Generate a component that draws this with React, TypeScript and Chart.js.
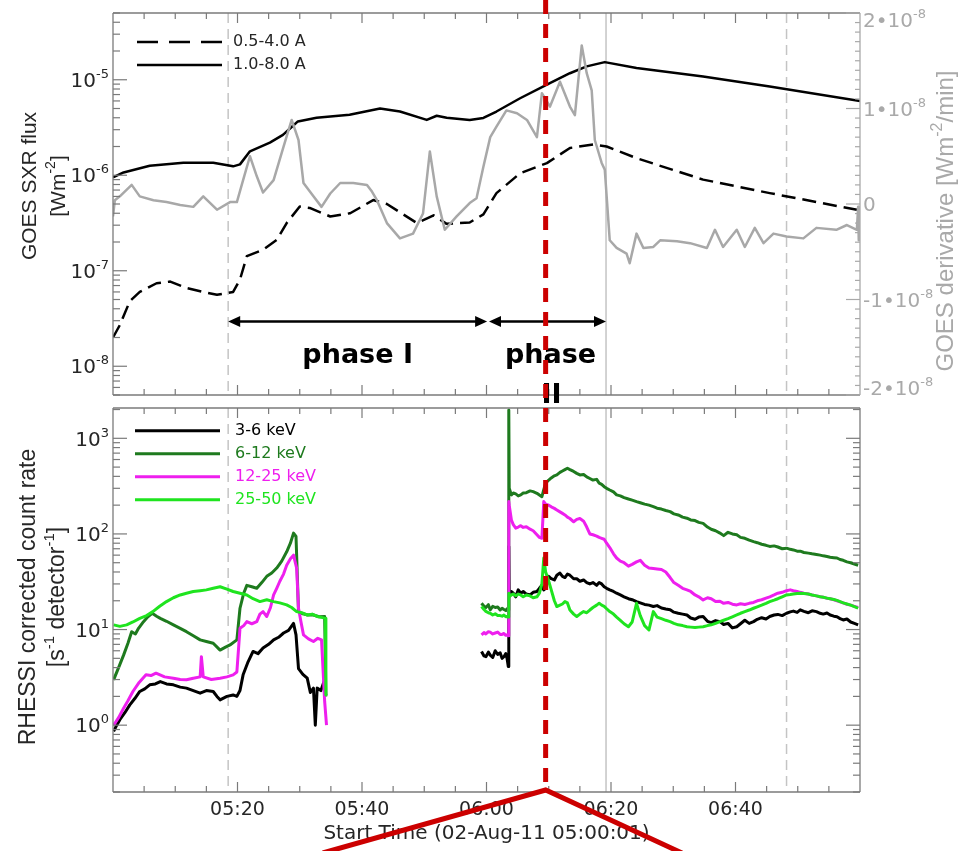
import React, { useEffect, useRef } from 'react';
import { Chart, registerables } from 'chart.js';

Chart.register(...registerables);

// ---------------- GOES (top panel) — time in minutes after 05:00 UT ----------------
const goesLongMin = [0, 1.7, 5.9, 11.3, 16.1, 19.3, 20.4, 22, 25.2, 27.3, 28.7, 29.7, 32.7, 38, 42.9, 46.1, 50.4, 52, 53.6, 57.3, 59.5, 61.6, 65.4, 69.7, 73.4, 76.1, 79, 84.1, 94.8, 105.5, 120];
const goesLongFlux = [0.95e-6, 1.07e-6, 1.26e-6, 1.35e-6, 1.35e-6, 1.24e-6, 1.3e-6, 1.78e-6, 2.2e-6, 2.65e-6, 3.2e-6, 3.66e-6, 4.0e-6, 4.3e-6, 5.0e-6, 4.65e-6, 3.8e-6, 4.2e-6, 4.0e-6, 3.78e-6, 3.98e-6, 4.65e-6, 6.4e-6, 8.9e-6, 1.17e-5, 1.38e-5, 1.53e-5, 1.33e-5, 1.08e-5, 8.5e-6, 6.0e-6];

const goesShortMin = [0, 1.1, 2.7, 4.3, 7.0, 9.2, 11.8, 14.5, 16.7, 19.3, 20.4, 21.5, 24.1, 26.3, 27.9, 30, 31.6, 34.9, 38.1, 41.8, 44, 48.8, 51.5, 53.6, 57.3, 59.5, 61.6, 65.4, 69.7, 73.4, 77.2, 79.3, 84.1, 94.8, 105.5, 119.5];
const goesShortFlux = [2.0e-8, 2.7e-8, 4.8e-8, 6.0e-8, 7.4e-8, 7.7e-8, 6.6e-8, 6.0e-8, 5.6e-8, 6.0e-8, 8.1e-8, 1.42e-7, 1.66e-7, 2.1e-7, 3.16e-7, 4.7e-7, 4.55e-7, 3.7e-7, 4.0e-7, 5.5e-7, 5.0e-7, 3.16e-7, 3.8e-7, 3.1e-7, 3.2e-7, 3.9e-7, 6.5e-7, 1.05e-6, 1.34e-6, 1.93e-6, 2.1e-6, 2.0e-6, 1.51e-6, 9.0e-7, 6.5e-7, 4.35e-7];

// GOES derivative, in units of 1e-8 W m^-2 / min
const derivMin = [0, 0.3, 1.1, 3, 4.3, 6.5, 8.6, 10.8, 12.9, 14.5, 16.7, 18.8, 19.9, 20.9, 22, 23.1, 24.1, 25.8, 27.4, 28.7, 29.8, 30.6, 32.2, 33.5, 34.9, 36.5, 38.6, 40.8, 41.6, 42.4, 44, 46.1, 48.2, 49.8, 50.9, 52, 53.3, 55.2, 57.3, 58.4, 59.5, 60.6, 61.6, 63.2, 64.9, 66.5, 68.1, 68.9, 70.2, 71.8, 73.4, 74.2, 75.3, 76.1, 76.9, 77.4, 78.5, 79.0, 79.8, 80.9, 82.5, 83.0, 84.1, 85.2, 86.8, 87.9, 90.6, 92.7, 95.4, 96.7, 98.0, 100.2, 101.5, 103.1, 104.5, 106.1, 108.2, 110.9, 113.0, 116.2, 117.9, 119.5, 119.7, 119.8];
const derivVal = [-0.13, 0.04, 0.08, 0.2, 0.08, 0.04, 0.02, -0.01, -0.03, 0.08, -0.06, 0.02, 0.02, 0.25, 0.50, 0.29, 0.12, 0.25, 0.60, 0.88, 0.67, 0.22, 0.08, -0.03, 0.11, 0.22, 0.22, 0.20, 0.13, 0.04, -0.20, -0.36, -0.31, -0.10, 0.55, 0.08, -0.27, -0.13, 0.01, 0.06, 0.39, 0.70, 0.81, 0.98, 0.95, 0.88, 0.70, 1.16, 1.02, 1.28, 1.02, 0.93, 1.66, 1.37, 1.19, 0.67, 0.43, 0.36, -0.38, -0.46, -0.52, -0.62, -0.31, -0.46, -0.45, -0.38, -0.39, -0.41, -0.46, -0.27, -0.45, -0.27, -0.45, -0.25, -0.41, -0.31, -0.34, -0.36, -0.25, -0.27, -0.22, -0.27, -0.03, -0.38];

// ---------------- RHESSI (bottom panel) — counts s^-1 detector^-1 ----------------
// segment A (before RHESSI data gap)
const b36MinA = [0.1, 0.6, 1.1, 1.9, 2.7, 3.5, 4.3, 5.1, 5.9, 6.8, 7.6, 8.6, 9.7, 10.8, 11.8, 12.9, 14.0, 15.0, 16.1, 16.7, 17.2, 18.3, 19.3, 19.9, 20.4, 20.9, 21.7, 22.5, 23.3, 24.1, 25.0, 25.8, 26.6, 27.4, 28.2, 29.0, 29.4, 29.8, 30.5, 31.2, 31.7, 32.2, 32.5, 32.8, 33.4, 33.9, 34.2];
const b36RateA = [0.86, 1.0, 1.14, 1.35, 1.63, 1.9, 2.25, 2.4, 2.64, 2.7, 2.86, 2.7, 2.64, 2.5, 2.44, 2.3, 2.16, 2.3, 2.25, 2.0, 1.84, 2.0, 2.07, 2.0, 2.3, 3.36, 4.6, 5.9, 5.6, 6.4, 7.0, 7.8, 8.3, 9.2, 9.8, 11.6, 8.8, 3.9, 3.4, 3.1, 2.2, 2.44, 1.0, 2.44, 2.3, 2.86, 2.0];
const b612MinA = [0.1, 0.9, 1.7, 2.4, 3.0, 3.6, 4.1, 4.9, 5.6, 6.3, 7.0, 7.6, 8.6, 9.7, 10.8, 11.8, 12.9, 14.0, 15.0, 16.1, 17.2, 18.0, 18.8, 19.9, 20.4, 21.0, 21.5, 22.3, 23.1, 23.9, 24.7, 25.5, 26.3, 27.1, 27.9, 28.5, 29.0, 29.4, 29.8, 30.5, 31.3, 32.2, 33.1, 34.0, 34.2];
const b612RateA = [2.98, 4.0, 5.4, 7.2, 9.5, 9.0, 10.3, 12.1, 13.6, 14.8, 13.8, 13.1, 12.2, 11.2, 10.3, 9.5, 8.6, 7.8, 7.5, 7.2, 6.1, 6.5, 6.9, 7.8, 16.7, 24, 29, 28, 27, 31, 36, 39, 44, 52, 65, 80, 102, 94, 15.4, 14.6, 14.2, 14.2, 13.6, 13.7, 2.07];
const b1225MinA = [0.1, 0.9, 1.7, 2.4, 3.2, 4.2, 5.3, 6.1, 6.9, 8.3, 9.7, 10.8, 11.8, 12.9, 14.0, 14.2, 14.5, 15.8, 17.2, 18.3, 19.3, 19.9, 20.4, 21.0, 21.5, 22.3, 23.1, 23.6, 24.1, 24.7, 25.3, 25.8, 26.3, 26.8, 27.4, 27.9, 28.5, 29.0, 29.5, 29.8, 30.2, 30.6, 31.4, 32.2, 32.9, 33.5, 34.0, 34.3];
const b1225RateA = [1.0, 1.2, 1.5, 1.8, 2.25, 2.8, 3.36, 3.3, 3.5, 3.2, 3.1, 3.0, 2.98, 3.1, 3.2, 5.2, 3.2, 3.0, 3.1, 3.2, 3.36, 3.6, 10.3, 11.0, 12.1, 11.5, 12.1, 14.5, 15.4, 13.7, 17.0, 23, 27, 32, 38, 47, 55, 60, 44, 16.7, 12.0, 8.8, 8.0, 7.5, 8.1, 7.8, 1.77, 1.0];
const b2550MinA = [0.1, 1.1, 2.2, 3.2, 4.3, 5.4, 6.4, 7.5, 8.6, 9.7, 10.8, 11.8, 12.9, 14.0, 15.0, 16.1, 17.2, 18.3, 19.3, 20.4, 21.5, 22.5, 23.6, 24.7, 25.8, 26.8, 27.9, 28.7, 29.5, 30.3, 31.2, 32.0, 32.8, 33.5, 34.1, 34.2];
const b2550RateA = [11.2, 10.8, 11.2, 12.0, 13.1, 14.0, 15.4, 17.5, 19.6, 21.5, 23, 24, 25, 25.5, 26, 27, 28, 26.5, 25, 24, 23, 21, 19.6, 20.5, 19.6, 19, 18.1, 17, 15.4, 15, 14.2, 14.5, 13.7, 13.4, 13.1, 2.07];

// segment B (after RHESSI data gap) — common time grid
const rhessiMinB = [
  59.2, 59.6, 59.9, 60.3, 60.6, 61.0, 61.4, 61.8, 62.2, 62.5,
  62.8, 63.1, 63.3, 63.5, 63.58, 63.65, 64.0, 64.3, 64.7, 65.1,
  65.5, 65.9, 66.4, 67.0, 67.5, 68.1, 68.5, 68.9, 69.2, 69.5,
  70.0, 70.4, 70.9, 71.3, 71.8, 72.2, 72.6, 73.0, 73.4, 74.0,
  74.5, 75.0, 75.6, 76.1, 76.6, 77.1, 77.7, 78.1, 78.5, 78.9,
  79.3, 79.8, 80.4, 80.9, 81.5, 82.1, 82.8, 83.4, 84.1, 84.7,
  85.4, 86.1, 86.8, 87.4, 88.1, 88.8, 89.5, 90.1, 90.8, 91.5,
  92.2, 92.8, 93.5, 94.1, 94.8, 95.5, 96.1, 96.8, 97.5, 98.1,
  98.8, 99.5, 100.2, 100.8, 101.5, 102.2, 102.9, 103.5, 104.2, 104.9,
  105.5, 106.2, 106.8, 107.5, 108.2, 108.8, 109.3, 109.9, 110.4, 111.0,
  111.7, 112.3, 113.0, 113.6, 114.1, 114.7, 115.2, 115.8, 116.3, 116.8,
  117.3, 117.9, 118.5, 119.1, 119.7,
];
const b36RateB = [
  5.9, 5.3, 5.2, 5.8, 5.4, 5.1, 6.0, 5.5, 5.7, 5.0,
  5.2, 5.6, 5.0, 4.1, 74, 23, 25, 24, 22, 26,
  24, 25, 23.5, 23, 24.5, 25, 27, 29, 26, 27,
  36, 34, 33, 37, 39, 36, 35, 38, 37, 34,
  34, 32, 33, 31, 30, 31, 29, 31, 30, 28,
  27, 26, 25, 24, 23, 22, 21, 20.5, 19.6, 19,
  18.3, 18, 17.4, 17.8, 16.8, 16.4, 16.1, 15.2, 14.8, 14.5,
  14.2, 13.2, 12.8, 13.5, 13.7, 12.2, 11.8, 12.4, 12.1, 11.3,
  11.6, 10.4, 10.7, 11.5, 12.5, 11.6, 12.1, 12.8, 13.3, 12.9,
  13.7, 14.2, 14.4, 14.0, 14.8, 15.3, 15.6, 15.1, 16.1, 15.5,
  15.0, 15.7, 15.4, 14.8, 14.5, 14.9, 14.2, 13.8, 13.6, 13.0,
  12.6, 12.9, 12.0, 11.6, 11.2,
];
const b612RateB = [
  18.8, 17.5, 17.0, 18.2, 16.1, 17.5, 17.0, 17.2, 16.0, 16.7,
  16.2, 15.8, 16.5, 16, 1980, 300, 256, 268, 262, 250,
  256, 268, 270, 282, 277, 266, 255, 245, 290, 340,
  366, 385, 405, 414, 440, 455, 470, 486, 470, 450,
  430, 414, 418, 395, 380, 366, 372, 340, 330, 312,
  300, 288, 275, 256, 250, 240, 232, 226, 218, 212,
  205, 200, 193, 186, 182, 176, 171, 162, 158, 150,
  146, 140, 138, 132, 129, 118, 112, 108, 102, 96,
  104, 100, 98, 92, 90, 86, 83, 81, 78, 76,
  74, 75, 73, 70, 71, 69, 68, 66, 66, 64,
  63, 62, 61, 60, 59, 58, 57, 56.5, 56, 54,
  53, 51, 50, 48.5, 47,
];
const b1225RateB = [
  8.8, 9.3, 9.0, 9.5, 9.4, 9.0, 9.2, 9.4, 8.9, 8.9,
  9.1, 8.7, 8.8, 8.6, 218, 200, 140, 125, 115, 118,
  122, 117, 119, 112, 108, 98, 92, 90, 218, 205,
  200, 192, 185, 178, 170, 164, 158, 150, 145, 134,
  142, 145, 136, 118, 100, 98, 95, 92, 90, 88,
  80, 72, 62, 56, 52, 50, 46, 48, 51, 53,
  47, 44, 43.5, 43, 42.5, 40, 35, 31, 29, 27,
  26, 25, 23, 22, 20.4, 21.5, 21, 19.6, 19.8, 18.8,
  19.2, 18.4, 18.1, 18.6, 18.3, 18.8, 19.2, 20, 20.5, 21.3,
  22, 23, 24, 24.5, 25.5, 26, 25.5, 25, 24.5, 24,
  23.5, 23, 22.5, 22, 21.8, 21.2, 21, 20.5, 20, 19.5,
  19, 18.4, 18, 17.5, 17,
];
const b2550RateB = [
  17.4, 16.2, 15.5, 15.0, 14.8, 14.2, 14.6, 14.0, 14.0, 13.8,
  14.2, 13.6, 13.7, 13.5, 24, 22, 23, 23.5, 22.5, 23.5,
  23, 22, 23, 22.5, 21.5, 22, 24, 30, 56, 40,
  32, 26, 20, 17.4, 18, 18.5, 19.6, 19, 16, 14.5,
  13.7, 14.5, 15.4, 15, 16, 17, 18, 18.8, 18, 17.5,
  16.5, 15.4, 14.5, 13.5, 12.5, 11.5, 10.7, 12, 18.8, 14,
  11, 9.9, 15.4, 13.5, 13, 12.5, 12.1, 11.6, 11.2, 11,
  10.7, 10.6, 10.5, 10.6, 10.7, 11, 11.2, 11.6, 12.1, 12.5,
  13, 13.6, 14.2, 14.8, 15.4, 16, 16.7, 17.3, 18, 18.8,
  19.6, 20.3, 21, 22, 23, 23.2, 23.5, 23.8, 24, 23.8,
  23.5, 23, 22.5, 22, 21.8, 21.3, 21, 20.6, 20.2, 19.6,
  19, 18.5, 18, 17.4, 16.7,
];

const RHESSI_GAP_MIN = 46; // RHESSI has no data between the two segments

// ---------------- axes, labels, markers ----------------
const X_LABEL_MIN = [20, 40, 60, 80, 100];
const X_LABELS = ['05:20', '05:40', '06:00', '06:20', '06:40'];
const X_TITLE = 'Start Time (02-Aug-11 05:00:01)';
const GOES_LEGEND = ['0.5-4.0 A', '1.0-8.0 A'];
const RHESSI_LEGEND = ['3-6 keV', '6-12 keV', '12-25 keV', '25-50 keV'];
const RHESSI_COLORS = ['#000000', '#1e7a1e', '#ee1fee', '#1fe41f'];
const DERIV_MAJOR = [2, 1, 0, -1, -2];

const FLARE_START_MIN = 18.5;
const FLARE_PEAK_MIN = 79.2;
const FLARE_END_MIN = 108.2;
const PHASE1 = [18.5, 60.1];
const PHASE2 = [60.4, 79.2];
const ARROW_FLUX = 2.94e-8;
const RED_MARK_MIN = 69.5;
const CHEVRON_LEFT_MIN = 33.7;
const CHEVRON_RIGHT_MIN = 91.4;

const FAM_H = '"DejaVu Sans", "Liberation Sans", sans-serif';
const FAM_R = '"Liberation Sans", Arial, sans-serif';
const AXIS = '#7a7a7a';
const TEXT = '#262626';
const LIGHT = '#a9a9a9';
const VGRAY = '#c4c4c4';
const RED = '#cc0000';

const pts = (t: number[], v: number[]) => t.map((x, i) => ({ x, y: v[i] as number | null }));
const gapped = (ta: number[], va: number[], tb: number[], vb: number[]) => [
  ...pts(ta, va),
  { x: RHESSI_GAP_MIN, y: null },
  ...pts(tb, vb),
];

type Part = [string, boolean];
function drawSup(ctx: CanvasRenderingContext2D, parts: Part[], x: number, y: number, size: number, align: string, family: string, weight = 'normal') {
  const sup = Math.round(size * 0.65);
  const fontOf = (s: boolean) => `${weight} ${s ? sup : size}px ${family}`;
  const widths = parts.map(([t, s]) => { ctx.font = fontOf(s); return ctx.measureText(t).width; });
  const total = widths.reduce((a, b) => a + b, 0);
  let cx = align === 'left' ? x : align === 'right' ? x - total : x - total / 2;
  ctx.textAlign = 'left';
  ctx.textBaseline = 'alphabetic';
  parts.forEach(([t, s], i) => {
    ctx.font = fontOf(s);
    ctx.fillText(t, cx, s ? y - size * 0.45 : y);
    cx += widths[i];
  });
}

function drawRot(ctx: CanvasRenderingContext2D, parts: Part[], cx: number, cy: number, size: number, color: string) {
  ctx.save();
  ctx.translate(cx, cy);
  ctx.rotate(-Math.PI / 2);
  ctx.fillStyle = color;
  drawSup(ctx, parts, 0, size * 0.36, size, 'center', FAM_R);
  ctx.restore();
}

function seg(ctx: CanvasRenderingContext2D, x1: number, y1: number, x2: number, y2: number) {
  ctx.beginPath();
  ctx.moveTo(x1, y1);
  ctx.lineTo(x2, y2);
  ctx.stroke();
}

function flareLines(ctx: CanvasRenderingContext2D, chart: any) {
  const a = chart.chartArea;
  const xs = chart.scales.x;
  ctx.save();
  ctx.strokeStyle = VGRAY;
  ctx.lineWidth = 1.5;
  [[FLARE_START_MIN, true], [FLARE_PEAK_MIN, false], [FLARE_END_MIN, true]].forEach(([m, dashed]) => {
    ctx.setLineDash(dashed ? [10, 6] : []);
    const px = xs.getPixelForValue(m as number);
    seg(ctx, px, a.top, px, a.bottom);
  });
  ctx.restore();
}

function frameAndXTicks(ctx: CanvasRenderingContext2D, chart: any, rightColor: string) {
  const a = chart.chartArea;
  const xs = chart.scales.x;
  ctx.save();
  ctx.setLineDash([]);
  ctx.lineWidth = 1.3;
  ctx.strokeStyle = AXIS;
  seg(ctx, a.left, a.top, a.right, a.top);
  seg(ctx, a.left, a.bottom, a.right, a.bottom);
  seg(ctx, a.left, a.top, a.left, a.bottom);
  ctx.strokeStyle = rightColor;
  seg(ctx, a.right, a.top, a.right, a.bottom);
  ctx.strokeStyle = AXIS;
  ctx.lineWidth = 1.2;
  for (let m = 5; m < 120; m += 5) {
    const px = xs.getPixelForValue(m);
    const len = m % 20 === 0 ? 10 : 6;
    seg(ctx, px, a.bottom, px, a.bottom - len);
    seg(ctx, px, a.top, px, a.top + len);
  }
  ctx.restore();
}

function logAxis(ctx: CanvasRenderingContext2D, chart: any, ys: any, mirror: boolean) {
  const a = chart.chartArea;
  const min = ys.min, max = ys.max;
  ctx.save();
  ctx.setLineDash([]);
  ctx.strokeStyle = AXIS;
  ctx.lineWidth = 1.2;
  const e0 = Math.floor(Math.log10(min)), e1 = Math.ceil(Math.log10(max));
  for (let e = e0; e <= e1; e++) {
    for (let m = 1; m < 10; m++) {
      const v = Number(`${m}e${e}`);
      if (v < min || v > max) continue;
      const py = ys.getPixelForValue(v);
      const len = m === 1 ? 14 : 7;
      seg(ctx, a.left, py, a.left + len, py);
      if (mirror) seg(ctx, a.right, py, a.right - len, py);
      if (m === 1) {
        ctx.fillStyle = TEXT;
        drawSup(ctx, [['10', false], [String(e), true]], a.left - 4, py + 7.2, 20, 'right', FAM_H);
      }
    }
  }
  ctx.restore();
}

function doubleArrow(ctx: CanvasRenderingContext2D, x1: number, x2: number, y: number) {
  const hl = 12, hw = 5.5;
  ctx.save();
  ctx.setLineDash([]);
  ctx.strokeStyle = '#000';
  ctx.fillStyle = '#000';
  ctx.lineWidth = 2.5;
  seg(ctx, x1 + hl - 2, y, x2 - hl + 2, y);
  ctx.beginPath();
  ctx.moveTo(x1, y); ctx.lineTo(x1 + hl, y - hw); ctx.lineTo(x1 + hl, y + hw); ctx.closePath(); ctx.fill();
  ctx.beginPath();
  ctx.moveTo(x2, y); ctx.lineTo(x2 - hl, y - hw); ctx.lineTo(x2 - hl, y + hw); ctx.closePath(); ctx.fill();
  ctx.restore();
}

const topDeco = {
  id: 'topDeco',
  beforeDatasetsDraw(chart: any) {
    flareLines(chart.ctx, chart);
  },
  afterDatasetsDraw(chart: any) {
    const ctx: CanvasRenderingContext2D = chart.ctx;
    const a = chart.chartArea;
    const xs = chart.scales.x, ys = chart.scales.y, y2 = chart.scales.y2;
    frameAndXTicks(ctx, chart, LIGHT);
    logAxis(ctx, chart, ys, false);

    // right derivative axis
    ctx.save();
    ctx.strokeStyle = LIGHT;
    ctx.lineWidth = 1.2;
    for (let k = -20; k <= 20; k++) {
      const py = y2.getPixelForValue(k / 10);
      const len = k % 10 === 0 ? 14 : 5;
      seg(ctx, a.right, py, a.right - len, py);
    }
    ctx.fillStyle = LIGHT;
    DERIV_MAJOR.forEach((v) => {
      const py = Math.min(Math.max(y2.getPixelForValue(v), a.top + 7), a.bottom - 7);
      const parts: Part[] = v === 0 ? [['0', false]] : [[`${v}\u202210`, false], ['-8', true]];
      drawSup(ctx, parts, a.right + 3, py + 7.2, 20, 'left', FAM_H);
    });
    ctx.restore();

    // axis titles
    drawRot(ctx, [['GOES SXR flux', false]], 28, 186, 21, TEXT);
    drawRot(ctx, [['[Wm', false], ['-2', true], [']', false]], 57, 186, 21, TEXT);
    drawRot(ctx, [['GOES derivative [Wm', false], ['-2', true], ['/min]', false]], 944, 221, 24, LIGHT);

    // legend
    ctx.save();
    ctx.strokeStyle = '#000';
    ctx.lineWidth = 2.5;
    ctx.setLineDash([21, 11]);
    seg(ctx, a.left + 24, a.top + 29, a.left + 109, a.top + 29);
    ctx.setLineDash([]);
    seg(ctx, a.left + 24, a.top + 52, a.left + 109, a.top + 52);
    ctx.fillStyle = TEXT;
    ctx.font = `16px ${FAM_H}`;
    ctx.textAlign = 'left';
    ctx.textBaseline = 'middle';
    ctx.fillText(GOES_LEGEND[0], a.left + 120, a.top + 29);
    ctx.fillText(GOES_LEGEND[1], a.left + 120, a.top + 52);
    ctx.restore();

    // phase arrows and labels
    const ay = ys.getPixelForValue(ARROW_FLUX);
    const p1a = xs.getPixelForValue(PHASE1[0]), p1b = xs.getPixelForValue(PHASE1[1]);
    const p2a = xs.getPixelForValue(PHASE2[0]), p2b = xs.getPixelForValue(PHASE2[1]);
    doubleArrow(ctx, p1a, p1b, ay);
    doubleArrow(ctx, p2a, p2b, ay);
    ctx.save();
    ctx.fillStyle = '#000';
    ctx.font = `bold 27px ${FAM_H}`;
    ctx.textAlign = 'center';
    ctx.textBaseline = 'alphabetic';
    ctx.fillText('phase I', (p1a + p1b) / 2, ay + 41);
    ctx.fillText('phase', (p2a + p2b) / 2 + 3, ay + 41);
    ctx.fillText('II', (p2a + p2b) / 2 + 4, ay + 81);
    ctx.restore();
  },
};

const bottomDeco = {
  id: 'bottomDeco',
  beforeDatasetsDraw(chart: any) {
    flareLines(chart.ctx, chart);
  },
  afterDatasetsDraw(chart: any) {
    const ctx: CanvasRenderingContext2D = chart.ctx;
    const a = chart.chartArea;
    frameAndXTicks(ctx, chart, AXIS);
    logAxis(ctx, chart, chart.scales.y, true);

    drawRot(ctx, [['RHESSI corrected count rate', false]], 27, 597, 23, TEXT);
    drawRot(ctx, [['[s', false], ['-1', true], [' detector', false], ['-1', true], [']', false]], 56, 597, 23, TEXT);

    // legend
    ctx.save();
    ctx.lineWidth = 3;
    ctx.setLineDash([]);
    ctx.font = `16px ${FAM_H}`;
    ctx.textAlign = 'left';
    ctx.textBaseline = 'middle';
    RHESSI_LEGEND.forEach((label, i) => {
      const y = a.top + 22.7 + 23 * i;
      ctx.strokeStyle = RHESSI_COLORS[i];
      seg(ctx, a.left + 22, y, a.left + 107, y);
      ctx.fillStyle = RHESSI_COLORS[i];
      ctx.fillText(label, a.left + 122, y);
    });
    ctx.restore();
  },
  afterDraw(chart: any) {
    const ctx: CanvasRenderingContext2D = chart.ctx;
    const a = chart.chartArea;
    const xs = chart.scales.x;
    const xr = xs.getPixelForValue(RED_MARK_MIN);
    const apex = a.bottom - 2;
    ctx.save();
    ctx.strokeStyle = RED;
    ctx.lineWidth = 5;
    ctx.setLineDash([14, 10]);
    seg(ctx, xr, 0, xr, apex);
    ctx.setLineDash([]);
    ctx.lineJoin = 'miter';
    ctx.beginPath();
    ctx.moveTo(xs.getPixelForValue(CHEVRON_LEFT_MIN), chart.height + 2);
    ctx.lineTo(xr, apex);
    ctx.lineTo(xs.getPixelForValue(CHEVRON_RIGHT_MIN), chart.height + 2);
    ctx.stroke();
    ctx.restore();
  },
};

const baseOptions = (padding: any) => ({
  responsive: false,
  animation: false as const,
  devicePixelRatio: 1,
  events: [] as any[],
  layout: { padding },
  plugins: { legend: { display: false }, tooltip: { enabled: false }, title: { display: false } },
  elements: { point: { radius: 0 }, line: { tension: 0, borderJoinStyle: 'round' as const } },
});

export default function App() {
  const topRef = useRef<HTMLCanvasElement>(null);
  const botRef = useRef<HTMLCanvasElement>(null);

  useEffect(() => {
    const top = new Chart(topRef.current as HTMLCanvasElement, {
      type: 'line',
      data: {
        datasets: [
          { label: 'GOES derivative', data: pts(derivMin, derivVal), yAxisID: 'y2', borderColor: '#a8a8a8', borderWidth: 2.5, order: 0 },
          { label: GOES_LEGEND[1], data: pts(goesLongMin, goesLongFlux), yAxisID: 'y', borderColor: '#000', borderWidth: 2.5, order: 1 },
          { label: GOES_LEGEND[0], data: pts(goesShortMin, goesShortFlux), yAxisID: 'y', borderColor: '#000', borderWidth: 2.5, borderDash: [14, 7], order: 2 },
        ],
      },
      options: {
        ...baseOptions({ left: 113, right: 98, top: 13, bottom: 456 }),
        scales: {
          x: { type: 'linear', min: 0, max: 120, display: false },
          y: { type: 'logarithmic', min: 5e-9, max: 5e-5, display: false },
          y2: { type: 'linear', position: 'right', min: -2, max: 2, display: false },
        },
      } as any,
      plugins: [topDeco],
    });

    const bot = new Chart(botRef.current as HTMLCanvasElement, {
      type: 'line',
      data: {
        datasets: [
          { label: RHESSI_LEGEND[3], data: gapped(b2550MinA, b2550RateA, rhessiMinB, b2550RateB), borderColor: RHESSI_COLORS[3], borderWidth: 3, order: 0 },
          { label: RHESSI_LEGEND[2], data: gapped(b1225MinA, b1225RateA, rhessiMinB, b1225RateB), borderColor: RHESSI_COLORS[2], borderWidth: 3, order: 1 },
          { label: RHESSI_LEGEND[1], data: gapped(b612MinA, b612RateA, rhessiMinB, b612RateB), borderColor: RHESSI_COLORS[1], borderWidth: 3, order: 2 },
          { label: RHESSI_LEGEND[0], data: gapped(b36MinA, b36RateA, rhessiMinB, b36RateB), borderColor: RHESSI_COLORS[0], borderWidth: 3, order: 3 },
        ],
      },
      options: {
        ...baseOptions({ left: 113, right: 98, top: 408, bottom: 0 }),
        spanGaps: false,
        scales: {
          x: {
            type: 'linear',
            min: 0,
            max: 120,
            grid: { display: false, drawTicks: false },
            border: { display: false },
            afterBuildTicks: (s: any) => { s.ticks = X_LABEL_MIN.map((value) => ({ value })); },
            afterFit: (s: any) => { s.height = 59; },
            ticks: {
              autoSkip: false,
              maxRotation: 0,
              padding: 7,
              color: TEXT,
              font: { family: FAM_H, size: 19 },
              callback: (v: any) => X_LABELS[X_LABEL_MIN.indexOf(Number(v))] ?? '',
            },
            title: {
              display: true,
              text: X_TITLE,
              color: TEXT,
              font: { family: FAM_H, size: 20 },
              padding: { top: 0, bottom: 5 },
            },
          },
          y: { type: 'logarithmic', min: 0.2, max: 2075, display: false },
        },
      } as any,
      plugins: [bottomDeco],
    });

    return () => {
      top.destroy();
      bot.destroy();
    };
  }, []);

  return (
    <div style={{ position: 'absolute', left: 0, top: 0, width: 958, height: 851, background: '#fff', overflow: 'hidden' }}>
      <canvas ref={topRef} width={958} height={851} style={{ position: 'absolute', left: 0, top: 0 }} />
      <canvas ref={botRef} width={958} height={851} style={{ position: 'absolute', left: 0, top: 0 }} />
    </div>
  );
}
